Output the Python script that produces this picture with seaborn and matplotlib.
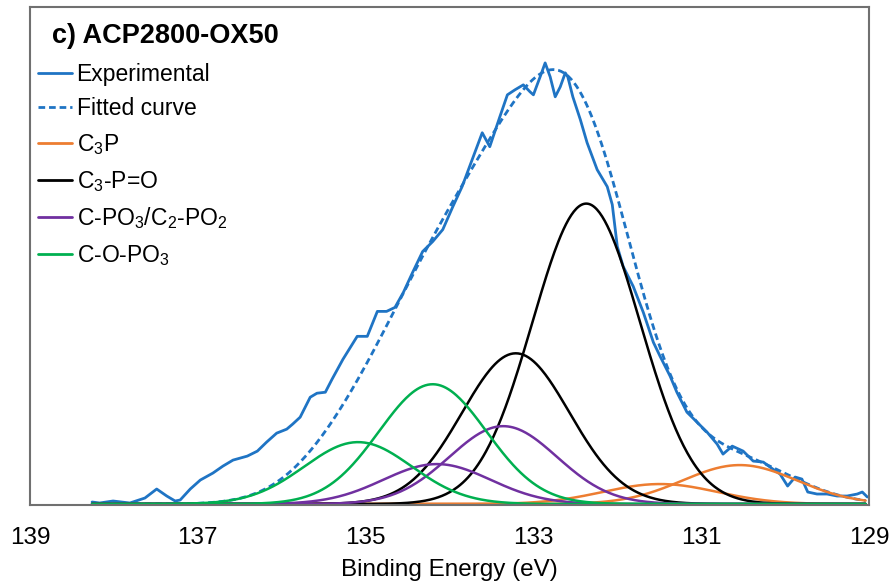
import numpy as np
import pandas as pd
import matplotlib
matplotlib.use("Agg")
import matplotlib.pyplot as plt
import seaborn as sns

# ---------------- data ----------------
exp_be = [138.26, 138.17, 138.01, 137.81, 137.63, 137.49, 137.37, 137.27, 137.21, 137.09,
          136.97, 136.82, 136.70, 136.58, 136.41, 136.29, 136.18, 136.06, 135.94, 135.87,
          135.78, 135.66, 135.58, 135.48, 135.40, 135.27, 135.10, 134.98, 134.86, 134.75,
          134.65, 134.55, 134.44, 134.32, 134.20, 134.08, 133.96, 133.85, 133.73, 133.61,
          133.52, 133.40, 133.31, 133.22, 133.12, 133.04, 133.00, 132.92, 132.86, 132.80,
          132.74, 132.68, 132.62, 132.59, 132.53, 132.44, 132.36, 132.24, 132.12, 132.06,
          132.00, 131.93, 131.81, 131.69, 131.57, 131.49, 131.37, 131.29, 131.17, 131.05,
          130.93, 130.81, 130.74, 130.63, 130.50, 130.38, 130.26, 130.18, 130.06, 129.97,
          129.88, 129.80, 129.73, 129.62, 129.50, 129.38, 129.26, 129.14, 129.08, 129.02]
exp_int = [2, 1, 3, 1, 6, 15, 8, 3, 4, 15,
           24, 31, 38, 44, 48, 53, 62, 71, 75, 80,
           87, 107, 111, 112, 125, 145, 168, 168, 193, 193,
           197, 212, 232, 253, 263, 275, 298, 318, 345, 372,
           358, 388, 410, 415, 420, 413, 410, 428, 442, 428,
           408, 418, 432, 428, 408, 385, 362, 335, 318, 300,
           258, 238, 218, 192, 162, 148, 128, 112, 92, 82,
           72, 60, 50, 58, 53, 43, 42, 37, 30, 18,
           27, 25, 12, 10, 10, 8, 8, 10, 12, 7]

# fitted components (doublets): centre (eV), height, width sigma (eV)
comp_names = ["C$_3$P", "C$_3$-P=O", "C-PO$_3$/C$_2$-PO$_2$", "C-O-PO$_3$"]
comp_centres = [[130.54, 131.49], [132.37, 133.21], [133.36, 134.15], [134.20, 135.09]]
comp_heights = [[39, 20], [301, 151], [78, 40], [120, 62]]
comp_sigmas = [[0.68, 0.68], [0.64, 0.64], [0.64, 0.64], [0.64, 0.64]]
comp_colors = ["#ED7D31", "#000000", "#7030A0", "#00B050"]

x_ticks = [139, 137, 135, 133, 131, 129]
be_start, be_end = 138.26, 129.04

# ---------------- figure ----------------
sns.set_theme(style="white")
plt.rcParams["font.family"] = ["Liberation Sans", "DejaVu Sans"]
plt.rcParams["mathtext.fontset"] = "custom"
plt.rcParams["mathtext.rm"] = "Liberation Sans"
plt.rcParams["mathtext.it"] = "Liberation Sans"
plt.rcParams["mathtext.default"] = "regular"
plt.rcParams["text.color"] = "black"
plt.rcParams["axes.labelcolor"] = "black"
plt.rcParams["xtick.color"] = "black"

fig = plt.figure(figsize=(8.96, 5.87), dpi=100)
ax = fig.add_axes([30 / 896, (587 - 505) / 587, 839 / 896, 498 / 587])

grid = np.linspace(be_start, be_end, 600)
peaks = []
for cen, hts, sig in zip(comp_centres, comp_heights, comp_sigmas):
    pair = []
    for c, h, s in zip(cen, hts, sig):
        pair.append(h * np.exp(-0.5 * ((grid - c) / s) ** 2))
    peaks.append(pair)
fitted = np.sum([p for pair in peaks for p in pair], axis=0)

blue = "#1F74C4"
exp_df = pd.DataFrame({"be": exp_be, "i": exp_int})
sns.lineplot(data=exp_df, x="be", y="i", ax=ax, color=blue, lw=2.0,
             label="Experimental", sort=False)
fit_df = pd.DataFrame({"be": grid, "i": fitted})
sns.lineplot(data=fit_df, x="be", y="i", ax=ax, color=blue, lw=2.0,
             dashes=False, label="Fitted curve", sort=False)
ax.lines[-1].set_linestyle((0, (2.4, 1.4)))

for name, pair, col in zip(comp_names, peaks, comp_colors):
    for k, p in enumerate(pair):
        df = pd.DataFrame({"be": grid, "i": p})
        sns.lineplot(data=df, x="be", y="i", ax=ax, color=col, lw=1.8,
                     label=name if k == 0 else None, sort=False)

ax.set_xlim(139, 129)
ax.set_ylim(-1, 498)
ax.set_xticks(x_ticks)
ax.set_xticklabels([str(t) for t in x_ticks], fontsize=17.5, color="black")
ax.set_yticks([])
ax.set_ylabel("")
ax.set_xlabel("Binding Energy (eV)", fontsize=17.5, labelpad=7, color="black")
ax.tick_params(axis="x", length=0, pad=16)
for sp in ax.spines.values():
    sp.set_color("#707070")
    sp.set_linewidth(1.5)
    sp.set_visible(True)

ax.text(22 / 839, 0.968, "c) ACP2800-OX50", transform=ax.transAxes,
        fontsize=19.5, fontweight="bold", va="top", ha="left", color="black")

leg = ax.legend(loc="upper left", bbox_to_anchor=(0.009, 0.888), frameon=False,
                fontsize=16.5, handlelength=1.5, handletextpad=0.2,
                labelspacing=0.51, borderpad=0, borderaxespad=0)
for line in leg.get_lines():
    line.set_linewidth(2.0)
for t in leg.get_texts():
    t.set_color("black")

fig.savefig("out.png", dpi=100)
